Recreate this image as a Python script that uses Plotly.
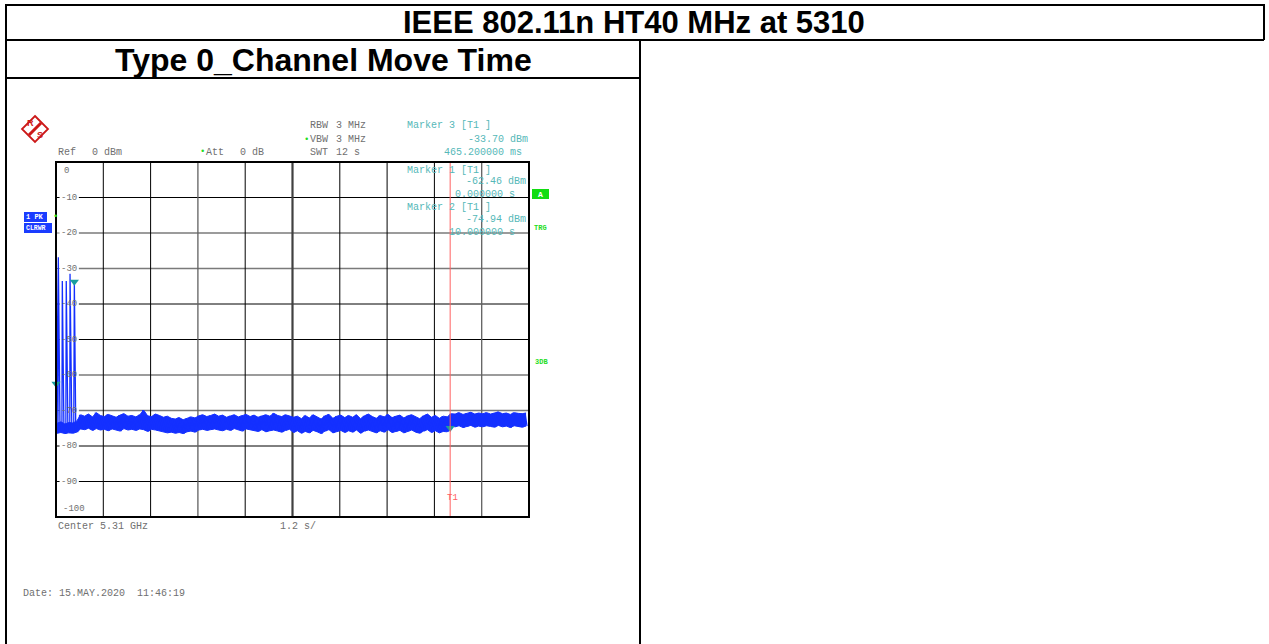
import plotly.graph_objects as go

# ---------------- data ----------------
title_text = "IEEE 802.11n HT40 MHz at 5310"
subtitle_text = "Type 0_Channel Move Time"

sweep_time_s = 12.0
y_ticks = [0, -10, -20, -30, -40, -50, -60, -70, -80, -90, -100]

# noise floor read per 0.1 s bin: upper / lower envelope (dBm)
bin_t = [round(0.1 * i, 1) for i in range(120)]
noise_hi = [
    -73.6, -73.2, -73.8, -73.4, -73.5, -73.0, -71.2, -71.6, -71.0, -71.8,
    -70.6, -71.4, -71.7, -71.1, -71.5, -71.9, -71.3, -70.9, -71.6, -71.4,
    -71.8, -71.2, -69.9, -71.5, -71.7, -71.0, -71.4, -71.9, -71.6, -72.2,
    -72.4, -72.0, -72.6, -72.3, -71.8, -72.1, -71.5, -71.2, -71.7, -71.4,
    -71.0, -71.6, -71.3, -71.9, -71.5, -71.2, -71.8, -71.4, -71.1, -71.7,
    -71.3, -71.9, -71.5, -71.2, -71.6, -70.8, -71.4, -71.7, -71.2, -71.5,
    -71.9, -71.6, -72.3, -71.4, -72.1, -71.2, -71.8, -72.4, -71.5, -71.1,
    -72.2, -71.6, -71.3, -72.0, -71.4, -71.9, -71.2, -72.3, -71.5, -71.0,
    -71.7, -72.2, -71.4, -71.8, -71.1, -72.0, -71.6, -71.3, -72.1, -71.5,
    -71.2, -71.8, -72.3, -71.5, -71.0, -71.9, -71.4, -72.2, -71.6, -71.8,
    -70.9, -71.0, -70.6, -71.1, -70.8, -70.5, -71.0, -70.7, -70.9, -70.6,
    -71.0, -70.8, -70.4, -70.9, -70.7, -71.1, -70.6, -70.8, -70.9, -70.7,
]
noise_lo = [
    -76.4, -76.2, -76.5, -76.3, -76.4, -76.1, -75.2, -75.4, -75.0, -75.6,
    -75.1, -75.5, -75.3, -75.7, -75.2, -75.4, -75.8, -75.1, -75.5, -75.3,
    -75.6, -75.2, -75.4, -75.9, -75.3, -75.5, -75.7, -76.0, -76.3, -76.1,
    -76.4, -76.2, -76.5, -76.0, -75.8, -76.1, -75.5, -75.3, -75.6, -75.4,
    -75.2, -75.5, -75.7, -75.3, -75.6, -75.1, -75.4, -75.8, -75.2, -75.5,
    -75.6, -75.9, -75.4, -76.0, -75.7, -75.5, -75.8, -76.1, -75.6, -75.3,
    -76.2, -75.7, -76.4, -75.9, -76.3, -75.6, -76.0, -76.5, -75.8, -75.4,
    -76.3, -75.9, -75.6, -76.2, -75.7, -76.1, -75.5, -76.4, -75.8, -75.5,
    -76.0, -76.3, -75.7, -76.1, -75.4, -76.2, -75.9, -75.6, -76.3, -75.8,
    -75.5, -76.1, -76.4, -75.8, -75.4, -76.2, -75.7, -76.3, -75.9, -76.0,
    -74.4, -74.6, -74.3, -74.8, -74.5, -74.2, -74.7, -74.4, -74.6, -74.3,
    -74.5, -74.7, -74.2, -74.6, -74.4, -74.8, -74.3, -74.5, -74.7, -74.4,
]

# burst peaks at the start of the sweep
spike_t = [0.008, 0.059, 0.16, 0.26, 0.356, 0.4652]
spike_db = [-26.2, -26.8, -33.5, -33.5, -31.5, -33.7]

# markers
marker_t = [0.0, 10.0, 0.4652]
marker_db = [-62.46, -74.94, -33.70]

# ---------------- helpers ----------------
W, H = 1269, 644
def px(x):
    return x / W
def py(y):
    return 1 - y / H

MONO = "Liberation Mono, Courier New, monospace"
GREY = "#707070"
TEAL = "#55b8b8"
GREEN = "#22dd22"
BLUE = "#1430ff"

# build trace points (min/max per bin + bursts)
pts = []
for t, hi, lo in zip(bin_t, noise_hi, noise_lo):
    pts.append((t, hi))
    pts.append((t + 0.05, lo))
for t, v in zip(spike_t, spike_db):
    pts.append((t, v))
pts.sort(key=lambda p: p[0])
tx = [p[0] for p in pts]
ty = [p[1] for p in pts]

fig = go.Figure()
# filled noise band between envelopes
fig.add_trace(go.Scatter(x=[t + 0.025 for t in bin_t], y=noise_lo, mode="lines",
                         line=dict(color=BLUE, width=1), hoverinfo="skip", showlegend=False))
fig.add_trace(go.Scatter(x=[t + 0.025 for t in bin_t], y=noise_hi, mode="lines",
                         line=dict(color=BLUE, width=1), fill="tonexty", fillcolor=BLUE,
                         hoverinfo="skip", showlegend=False))
fig.add_trace(go.Scatter(x=tx, y=ty, mode="lines",
                         line=dict(color=BLUE, width=1.3),
                         hoverinfo="skip", showlegend=False))
fig.add_trace(go.Scatter(x=marker_t, y=marker_db, mode="markers",
                         marker=dict(symbol="triangle-down", size=8, color="#1a9e9e"),
                         cliponaxis=False, hoverinfo="skip", showlegend=False))

shapes = []
# grid lines (data coordinates); horizontal ones start right of the level labels
h_colors = {-10: "#000", -20: "#7a7a7a", -30: "#7a7a7a", -40: "#000", -50: "#000",
            -60: "#7a7a7a", -70: "#7a7a7a", -80: "#000", -90: "#000"}
for v, c in h_colors.items():
    shapes.append(dict(type="line", xref="x", yref="y", x0=0.58, x1=sweep_time_s, y0=v, y1=v,
                       line=dict(color=c, width=1.5 if c != "#000" else 1), layer="below"))
    shapes.append(dict(type="line", xref="x", yref="y", x0=0, x1=0.09, y0=v, y1=v,
                       line=dict(color=c, width=1), layer="below"))
for i in range(1, 10):
    xv = sweep_time_s * i / 10
    c = "#000"
    w = 1
    if i == 5:
        c, w = "#404040", 2.2
    elif i == 3 or i == 9:
        c, w = "#606060", 1.3
    shapes.append(dict(type="line", xref="x", yref="y", x0=xv, x1=xv, y0=-100, y1=0,
                       line=dict(color=c, width=w), layer="below"))
# red time line T1 at marker 2
shapes.append(dict(type="line", xref="x", yref="y", x0=marker_t[1], x1=marker_t[1], y0=-100, y1=0,
                   line=dict(color="#ff6060", width=1)))
# plot frame
shapes.append(dict(type="rect", xref="x domain", yref="y domain", x0=0, x1=1, y0=0, y1=1,
                   line=dict(color="#000", width=2)))

# table borders
def pline(x0, y0, x1, y1, w=2):
    shapes.append(dict(type="line", xref="paper", yref="paper",
                       x0=px(x0), y0=py(y0), x1=px(x1), y1=py(y1),
                       line=dict(color="#000", width=w)))
pline(6, 5, 1264, 5)
pline(6, 4, 6, 644)
pline(1264, 4, 1264, 40)
pline(6, 40, 1264, 40)
pline(640, 40, 640, 644)
pline(6, 78, 640, 78)

# status boxes
def prect(x0, y0, x1, y1, fill):
    shapes.append(dict(type="rect", xref="paper", yref="paper",
                       x0=px(x0), y0=py(y0), x1=px(x1), y1=py(y1),
                       line=dict(width=0), fillcolor=fill))
prect(24, 212, 47, 222, "#1a3cff")
prect(24, 223, 52, 233, "#1a3cff")
prect(532, 189, 549, 199, "#11dd11")

# R&S logo
cx, cy, r = 35, 129, 13
shapes.append(dict(type="path", xref="paper", yref="paper",
                   path=f"M {px(cx)} {py(cy-r)} L {px(cx+r)} {py(cy)} L {px(cx)} {py(cy+r)} L {px(cx-r)} {py(cy)} Z",
                   line=dict(color="#cc1818", width=1.8), fillcolor="white"))
shapes.append(dict(type="line", xref="paper", yref="paper",
                   x0=px(cx-6), y0=py(cy+6), x1=px(cx+6), y1=py(cy-6),
                   line=dict(color="#cc1818", width=3)))

ann = []
def txt(x, y, s, color=GREY, size=10, family=MONO, anchor="left", bg=None, weight=None):
    a = dict(x=px(x), y=py(y), xref="paper", yref="paper", text=s, showarrow=False,
             xanchor=anchor, yanchor="middle",
             font=dict(family=family, size=size, color=color), borderpad=0)
    if weight:
        a["font"]["weight"] = weight
    if bg:
        a["bgcolor"] = bg
    ann.append(a)

# titles
txt(634, 22, title_text, color="#000", size=31, family="Liberation Sans, Arial", anchor="center", weight="bold")
txt(323, 60, subtitle_text, color="#000", size=32, family="Liberation Sans, Arial", anchor="center", weight="bold")

# logo letters
txt(30.5, 123, "R", color="#cc1818", size=9, family="Liberation Sans, Arial", anchor="center", weight="bold")
txt(39.5, 135, "S", color="#cc1818", size=9, family="Liberation Sans, Arial", anchor="center", weight="bold")

# header texts
txt(57, 152, "Ref")
txt(90.7, 152, "0 dBm")
txt(199, 152, "•", color=GREEN, size=9)
txt(204.7, 152, "Att")
txt(239.3, 152, "0 dB")
txt(309, 126, "RBW")
txt(335, 126, "3 MHz")
txt(302.5, 140, "•", color=GREEN, size=9)
txt(309, 140, "VBW")
txt(335, 140, "3 MHz")
txt(309, 152.5, "SWT")
txt(335, 152.5, "12 s")

# marker readouts
txt(405.7, 126, "Marker 3 [T1 ]", color=TEAL)
txt(466.7, 140, "-33.70 dBm", color=TEAL)
txt(442.7, 152.5, "465.200000 ms", color=TEAL)
txt(405.7, 170, "Marker 1 [T1 ]", color=TEAL)
txt(465.0, 182, "-62.46 dBm", color=TEAL)
txt(454.0, 194.3, "0.000000 s", color=TEAL)
txt(405.7, 207.7, "Marker 2 [T1 ]", color=TEAL)
txt(465.0, 219.3, "-74.94 dBm", color=TEAL)
txt(448.0, 232.7, "10.000000 s", color=TEAL)

# side labels
txt(25, 217, "1 PK", color="white", size=7, weight="bold")
txt(24.5, 228, "CLRWR", color="white", size=6.5, weight="bold")
txt(51.7, 217, "•", color=GREEN, size=9)
txt(540.5, 194, "A", color="white", size=8, anchor="center", weight="bold")
txt(533, 228, "TRG", color=GREEN, size=7, weight="bold")
txt(534, 362, "3DB", color=GREEN, size=7, weight="bold")

# y labels
top_px, bot_px = 162, 517
for v in y_ticks:
    ypix = top_px + (bot_px - top_px) * (-v) / 100
    if v == 0:
        txt(63, 171, "0", size=9)
    elif v == -100:
        txt(62, 509, "-100", size=9)
    else:
        txt(60, ypix, f"-{abs(v)}", size=9)

txt(452, 498, "T1", color="#ff6060", size=9, anchor="center")

# footer
txt(57, 526, "Center 5.31 GHz")
txt(279, 526, "1.2 s/")
txt(21.7, 593, "Date: 15.MAY.2020  11:46:19")

fig.update_layout(
    width=W, height=H,
    margin=dict(l=0, r=0, t=0, b=0),
    paper_bgcolor="white", plot_bgcolor="white",
    showlegend=False,
    xaxis=dict(domain=[56 / W, 529 / W], range=[0, sweep_time_s], showgrid=False,
               zeroline=False, showticklabels=False, ticks="", fixedrange=True),
    yaxis=dict(domain=[1 - bot_px / H, 1 - top_px / H], range=[-100, 0], showgrid=False,
               zeroline=False, showticklabels=False, ticks="", fixedrange=True),
    shapes=shapes,
    annotations=ann,
)

fig.write_html("out.html", config={"displayModeBar": False},
               post_script="document.body.style.margin='0';document.body.style.overflow='hidden';")
